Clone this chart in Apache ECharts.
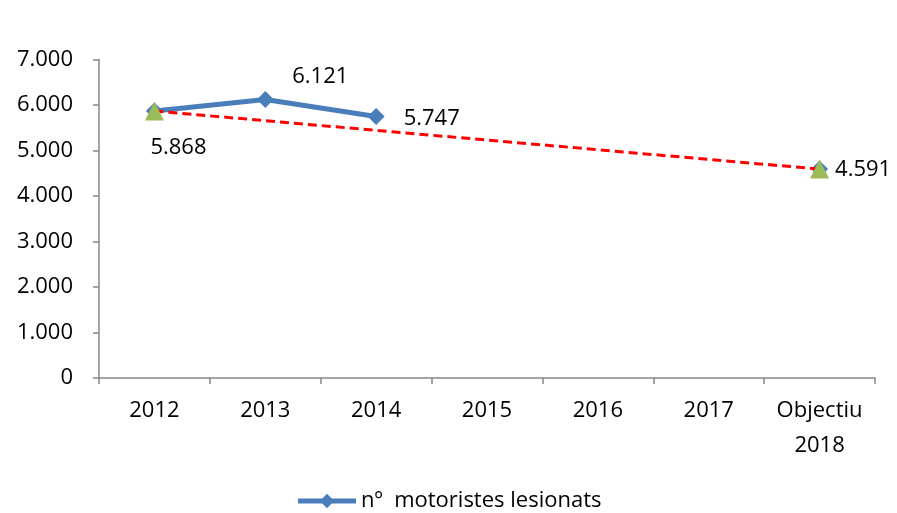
<!DOCTYPE html>
<html>
<head>
<meta charset="utf-8">
<script src="https://cdn.jsdelivr.net/npm/echarts@6/dist/echarts.min.js"></script>
<style>
  html, body { margin: 0; padding: 0; background: #fff; }
  #chart { width: 897px; height: 513px; }
</style>
</head>
<body>
<div id="chart"></div>
<script>
// categories and values
const categories = ['2012', '2013', '2014', '2015', '2016', '2017', 'Objectiu\n2018']
const injured = [5868, 6121, 5747, null, null, null, 4591]
const target = [5868, null, null, null, null, null, 4591]
const yTicks = { min: 0, max: 7000, interval: 1000 }
const seriesName = 'nº  motoristes lesionats'

// 5868 -> "5.868"
function fmt(v) {
  return String(v).replace(/\B(?=(\d{3})+(?!\d))/g, '.')
}

const FONT = 'Open Sans'
const FS = 22
const labelPlace = [
  { position: 'bottom', offset: [24, 12] },
  { position: 'top', offset: [55, 2] },
  { position: 'right', offset: [14, 2] },
  null, null, null,
  { position: 'right', offset: [2, 1] }
]

const chart = echarts.init(document.getElementById('chart'))

const injuredData = injured.map((v, i) => {
  if (v == null) return null
  return {
    value: v,
    label: {
      show: true,
      position: labelPlace[i].position,
      offset: labelPlace[i].offset,
      formatter: (p) => fmt(p.value),
      color: '#000',
      fontSize: FS,
      fontFamily: FONT
    }
  }
})

const option = {
  animation: false,
  textStyle: { fontFamily: FONT },
  grid: { left: 99, right: 22, top: 59.5, bottom: 135 },
  legend: {
    bottom: -4,
    left: 'center',
    data: [seriesName],
    itemWidth: 58,
    itemHeight: 18,
    itemGap: 4,
    lineStyle: { width: 5 },
    textStyle: { fontSize: FS, color: '#000', fontFamily: FONT }
  },
  xAxis: {
    type: 'category',
    data: categories,
    boundaryGap: true,
    axisLine: { lineStyle: { color: '#868686', width: 1.5 } },
    axisTick: { show: true, interval: 0, length: 6, lineStyle: { color: '#868686', width: 1.5 } },
    axisLabel: { color: '#000', fontSize: FS, interval: 0, margin: 15, lineHeight: 35, fontFamily: FONT }
  },
  yAxis: {
    type: 'value',
    min: yTicks.min,
    max: yTicks.max,
    interval: yTicks.interval,
    axisLine: { show: true, lineStyle: { color: '#868686', width: 1.5 } },
    axisTick: { show: true, length: 6, lineStyle: { color: '#868686', width: 1.5 } },
    splitLine: { show: false },
    axisLabel: { color: '#000', fontSize: FS, margin: 26, formatter: (v) => fmt(v), fontFamily: FONT }
  },
  series: [
    {
      name: seriesName,
      type: 'line',
      data: injuredData,
      connectNulls: false,
      symbol: 'diamond',
      symbolSize: 17,
      lineStyle: { color: '#4a7ebb', width: 5 },
      itemStyle: { color: '#4a7ebb' },
      z: 2
    },
    {
      name: 'objectiu',
      type: 'line',
      data: target,
      connectNulls: true,
      symbol: 'triangle',
      symbolSize: 19,
      lineStyle: { color: '#ff0000', width: 3, type: [9, 5] },
      itemStyle: { color: '#9bbb59' },
      z: 3
    }
  ]
}

chart.setOption(option)
</script>
</body>
</html>
